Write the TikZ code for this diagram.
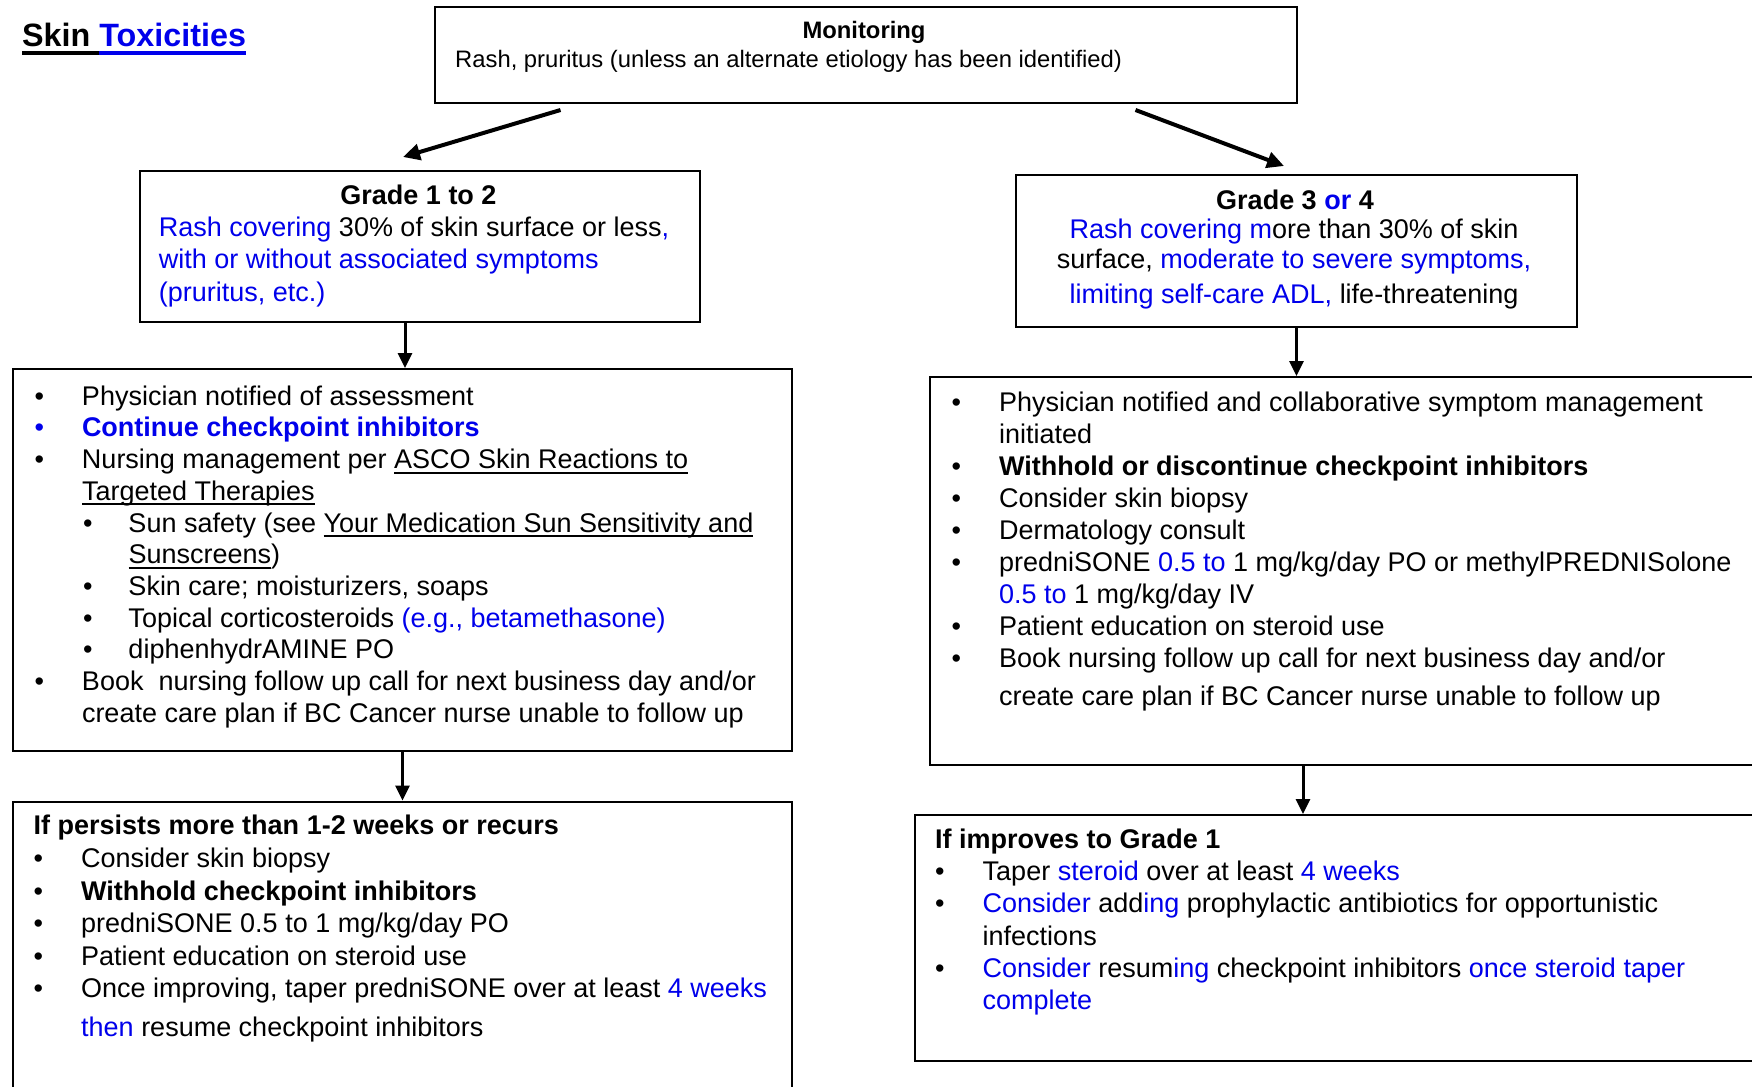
\documentclass[tikz,border=0pt]{standalone}
\usepackage{fontspec}
\setmainfont{Liberation Sans}
\usetikzlibrary{arrows.meta,calc}

\definecolor{lnk}{RGB}{0,0,235}

% list helpers: bullet item, continuation line, sub-level items
\newlength\itemind
\setlength\itemind{47.5pt}
\newlength\subind
\setlength\subind{45.5pt}
\newcommand\itm[1]{\makebox[\itemind][l]{\textbullet}#1}
\newcommand\cnt[1]{\hspace*{\itemind}#1}
\newcommand\sitm[1]{\hspace*{48.5pt}\makebox[\subind][l]{\textbullet}#1}
\newcommand\scnt[1]{\hspace*{48.5pt}\hspace*{\subind}#1}
\newcommand\bl[1]{\textcolor{lnk}{#1}}
\newcommand\firstline{\rule{0pt}{30pt}}

% underline at a fixed depth below the baseline
\newsavebox\ulbox
\newcommand\uldep{5pt}
\newcommand\ulthick{2pt}
\newcommand\ulx[1]{\sbox\ulbox{#1}\mbox{\rlap{\rule[-\uldep]{\wd\ulbox}{\ulthick}}\usebox\ulbox}}

\tikzset{
  box/.style={draw, line width=2pt, rectangle, inner sep=0pt, anchor=north west},
  body/.style={inner sep=0pt, anchor=north west, align=left},
  flow/.style={line width=3pt, -{Triangle[length=15pt,width=14pt]}},
  diag/.style={line width=4pt, -{Triangle[length=17pt,width=16pt]}},
}

\begin{document}
\begin{tikzpicture}[x=1pt,y=-1pt]
\fill[white] (0,0) rectangle (1752,1086);
\useasboundingbox (0,0) rectangle (1752,1086);

% title
\node[anchor=base west, inner sep=0pt, font=\fontsize{32.3}{38}\selectfont\bfseries] (title) at (22,46.7)
  {\renewcommand\uldep{8.3pt}\renewcommand\ulthick{3.8pt}\ulx{Skin }\textcolor{lnk}{\ulx{Toxicities}}};

% boxes
\node[box, minimum width=862pt, minimum height=96pt]  (mon) at (434,6) {};
\node[box, minimum width=560pt, minimum height=151pt] (g12) at (138.5,170) {};
\node[box, minimum width=561pt, minimum height=152pt] (g34) at (1015,174) {};
\node[box, minimum width=779pt, minimum height=382pt] (lm)  at (12,368) {};
\node[box, minimum width=831pt, minimum height=388pt] (rm)  at (929,376) {};
\node[box, minimum width=779pt, minimum height=300pt] (lb)  at (12,800.5) {};
\node[box, minimum width=846pt, minimum height=246pt] (rb)  at (914,814) {};

% monitoring
\node[anchor=base, inner sep=0pt, font=\fontsize{23.8}{28}\selectfont\bfseries] (monh) at (864,39) {Monitoring};
\node[anchor=base west, inner sep=0pt, font=\fontsize{23.8}{28}\selectfont] (mont) at (455,68)
  {Rash, pruritus (unless an alternate etiology has been identified)};

% grade 1 to 2
\node[anchor=base, inner sep=0pt, font=\fontsize{27}{32}\selectfont\bfseries] (g12h) at (418.5,204.5) {Grade 1 to 2};
\node[body, font=\fontsize{27}{32.5}\selectfont] (g12t) at (158.7,206) {%
\firstline\bl{Rash covering} 30\% of skin surface or less\bl{,}\\
\bl{with or without associated symptoms}\\
\bl{(pruritus, etc.)}};

% grade 3 or 4
\node[anchor=base, inner sep=0pt, font=\fontsize{27}{32}\selectfont\bfseries] (g34h) at (1295,209) {Grade 3 \bl{or} 4};
\node[inner sep=0pt, anchor=north, align=center, font=\fontsize{27}{30}\selectfont] (g34t) at (1294,208.3) {%
\firstline\bl{Rash covering m}ore than 30\% of skin\\
surface, \bl{moderate to severe symptoms,}\\[5pt]
\bl{limiting self-care ADL,} life-threatening};

% grade 1 to 2 actions
\node[body, font=\fontsize{27}{31.7}\selectfont] (lmt) at (34.3,375) {%
\firstline\itm{Physician notified of assessment}\\
\textcolor{lnk}{\itm{\bfseries Continue checkpoint inhibitors}}\\
\itm{Nursing management per \ulx{ASCO Skin Reactions to}}\\
\cnt{\ulx{Targeted Therapies}}\\
\sitm{Sun safety (see \ulx{Your Medication Sun Sensitivity and}}\\
\scnt{\ulx{Sunscreens})}\\
\sitm{Skin care; moisturizers, soaps}\\
\sitm{Topical corticosteroids \bl{(e.g., betamethasone)}}\\
\sitm{diphenhydrAMINE PO}\\
\itm{Book~~nursing follow up call for next business day and/or}\\
\cnt{create care plan if BC Cancer nurse unable to follow up}};

% grade 3 or 4 actions
\node[body, font=\fontsize{27}{31.9}\selectfont] (rmt) at (951.3,381.7) {%
\firstline\itm{Physician notified and collaborative symptom management}\\
\cnt{initiated}\\
\itm{\bfseries Withhold or discontinue checkpoint inhibitors}\\
\itm{Consider skin biopsy}\\
\itm{Dermatology consult}\\
\itm{predniSONE \bl{0.5 to} 1 mg/kg/day PO or methylPREDNISolone}\\
\cnt{\bl{0.5 to} 1 mg/kg/day IV}\\
\itm{Patient education on steroid use}\\
\itm{Book nursing follow up call for next business day and/or}\\[6pt]
\cnt{create care plan if BC Cancer nurse unable to follow up}};

% persisting grade 1 to 2
\node[body, font=\fontsize{27}{32.6}\selectfont] (lbt) at (33.5,804.7) {%
\firstline\textbf{If persists more than 1-2 weeks or recurs}\\
\itm{Consider skin biopsy}\\
\itm{\bfseries Withhold checkpoint inhibitors}\\
\itm{predniSONE 0.5 to 1 mg/kg/day PO}\\
\itm{Patient education on steroid use}\\
\itm{Once improving, taper predniSONE over at least \bl{4 weeks}}\\[5.5pt]
\cnt{\bl{then} resume checkpoint inhibitors}};

% improving grade 3 or 4
\node[body, font=\fontsize{27}{32.2}\selectfont] (rbt) at (935,818.3) {%
\firstline\textbf{If improves to Grade 1}\\
\itm{Taper \bl{steroid} over at least \bl{4 weeks}}\\
\itm{\bl{Consider} add\bl{ing} prophylactic antibiotics for opportunistic}\\
\cnt{infections}\\
\itm{\bl{Consider} resum\bl{ing} checkpoint inhibitors \bl{once steroid taper}}\\
\cnt{\bl{complete}}};

% connectors
\draw[diag] ($(mon.south)+(-305.5,6)$) -- ($(g12.north)+(-16.5,-13)$);
\draw[diag] ($(mon.south)+(269.5,6)$) -- ($(g34.north)+(-12.5,-8)$);
\coordinate (c1) at ($(lm.north)+(2.5,0)$);
\draw[flow] (c1 |- g12.south) -- (c1);
\draw[flow] (g34.south) -- (g34.south |- rm.north);
\draw[flow] (lm.south) -- (lm.south |- lb.north);
\coordinate (c2) at ($(rm.south)+(-42.5,0)$);
\draw[flow] (c2) -- (c2 |- rb.north);
\end{tikzpicture}
\end{document}
